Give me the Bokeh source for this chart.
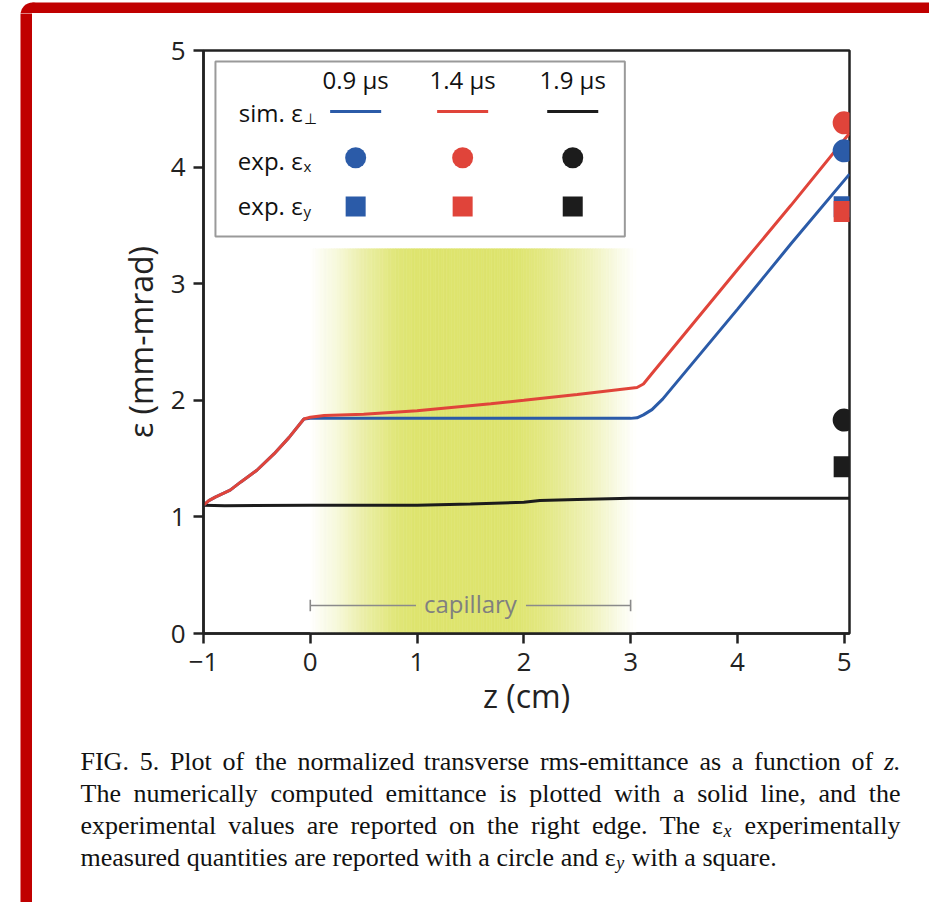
import numpy as np
from bokeh.plotting import figure
from bokeh.models import Label, Range1d, ColumnDataSource
from bokeh.layouts import column, row
from bokeh.core.properties import value
from bokeh.embed import file_html
from bokeh.resources import INLINE

# ---------------- data ----------------
z_blue = [-1.0, -0.95, -0.89, -0.75, -0.65, -0.5, -0.34, -0.2, -0.06, 0.0, 1.0, 2.0, 3.0, 3.06, 3.12, 3.2, 3.3, 4.0, 4.5, 5.05]
eps_blue = [1.10, 1.14, 1.17, 1.23, 1.30, 1.40, 1.54, 1.68, 1.84, 1.845, 1.845, 1.845, 1.845, 1.85, 1.875, 1.92, 2.01, 2.78, 3.34, 3.94]

z_red = [-1.0, -0.95, -0.89, -0.75, -0.65, -0.5, -0.34, -0.2, -0.06, 0.0, 0.13, 0.5, 1.0, 1.69, 2.0, 2.5, 3.06, 3.12, 3.2, 4.0, 4.5, 5.05]
eps_red = [1.10, 1.14, 1.17, 1.23, 1.30, 1.40, 1.54, 1.68, 1.84, 1.855, 1.87, 1.88, 1.91, 1.97, 2.00, 2.05, 2.11, 2.14, 2.23, 3.12, 3.67, 4.29]

z_black = [-1.0, -0.8, 0.0, 1.0, 1.5, 2.0, 2.15, 2.5, 3.0, 5.05]
eps_black = [1.10, 1.095, 1.10, 1.10, 1.11, 1.125, 1.14, 1.15, 1.16, 1.16]

z_exp = 5.0
exp_x = [4.14, 4.38, 1.83]   # circles: 0.9, 1.4, 1.9 us
exp_y = [3.66, 3.62, 1.43]   # squares

series_labels = ["0.9 μs", "1.4 μs", "1.9 μs"]
series_colors = ["#2b5ba8", "#e0443a", "#1c1c1c"]

x_ticks = [-1, 0, 1, 2, 3, 4, 5]
y_ticks = [0, 1, 2, 3, 4, 5]

capillary_start, capillary_end = 0.0, 3.0

caption_lines = [
    "FIG. 5. Plot of the normalized transverse rms-emittance as a function of z.",
    "The numerically computed emittance is plotted with a solid line, and the",
    "experimental values are reported on the right edge. The ε_x experimentally",
    "measured quantities are reported with a circle and ε_y with a square.",
]
caption_justify = [True, True, True, False]

# ---------------- page geometry ----------------
PAGE_W, PAGE_H = 929, 902
FRAME_RED = "#c00000"
BAR_X0, BAR_X1 = 20, 32        # left red bar
BAR_Y0, BAR_Y1 = 2, 13         # top red bar
CHART_H = 727
CAP_H = PAGE_H - BAR_Y1 - CHART_H


def blank_fig(w, h, xr, yr):
    f = figure(width=w, height=h, x_range=xr, y_range=yr, output_backend="svg", toolbar_location=None,
               x_axis_location=None, y_axis_location=None, min_border=0)
    f.grid.visible = False
    f.outline_line_color = None
    f.background_fill_color = "white"
    f.border_fill_color = "white"
    return f


# top red strip
top_strip = blank_fig(PAGE_W, BAR_Y1, Range1d(0, PAGE_W), Range1d(BAR_Y1, 0))
top_strip.quad(left=[BAR_X1], right=[PAGE_W + 5], top=[BAR_Y0], bottom=[BAR_Y1 + 1],
               fill_color=FRAME_RED, line_color=None)
top_strip.scatter(x=[BAR_X1], y=[BAR_Y0 + (BAR_X1 - BAR_X0)], marker="circle", size=2 * (BAR_X1 - BAR_X0),
                  fill_color=FRAME_RED, line_color=None)

# left red strip (full height below the top strip)
left_strip = blank_fig(BAR_X1, PAGE_H - BAR_Y1, Range1d(0, BAR_X1), Range1d(PAGE_H, BAR_Y1))
left_strip.quad(left=[BAR_X0], right=[BAR_X1 + 1], top=[BAR_Y1 - 1], bottom=[PAGE_H + 1],
                fill_color=FRAME_RED, line_color=None)

# ---------------- chart ----------------
FONT = "Open Sans"
INK = "#222222"

p = figure(width=PAGE_W - BAR_X1, height=CHART_H, x_range=Range1d(-1, 5.05), y_range=Range1d(0, 5),
           output_backend="svg", toolbar_location=None,
           min_border_left=171, min_border_right=80, min_border_top=37, min_border_bottom=CHART_H - 37 - 583)
p.background_fill_color = "white"
p.border_fill_color = "white"
p.grid.visible = False
p.outline_line_color = INK
p.outline_line_width = 2.5
p.outline_line_alpha = 1

for ax in (p.xaxis[0], p.yaxis[0]):
    ax.axis_line_color = INK
    ax.axis_line_width = 2.5
    ax.major_tick_line_color = INK
    ax.major_tick_line_width = 2.5
    ax.major_tick_out = 10
    ax.major_tick_in = 0
    ax.minor_tick_line_color = None
    ax.major_label_text_font = FONT
    ax.major_label_text_font_size = "26px"
    ax.major_label_text_color = INK
    ax.axis_label_text_font = FONT
    ax.axis_label_text_font_size = "32px"
    ax.axis_label_text_font_style = "normal"
    ax.axis_label_text_color = INK

p.xaxis.ticker = x_ticks
p.yaxis.ticker = y_ticks
p.xaxis.axis_label = "z (cm)"
p.yaxis.axis_label = "ε (mm-mrad)"
p.xaxis.major_label_standoff = 9
p.yaxis.major_label_standoff = 8
p.xaxis.axis_label_standoff = 0
p.yaxis.axis_label_standoff = 6
p.xaxis.major_label_overrides = {-1: "−1"}

# capillary gradient
yellow = np.array([222, 228, 110])
grad_stops_z = [0.0, 0.25, 0.5, 0.8, 1.0, 1.9, 2.2, 2.6, 2.9, 3.05]
grad_stops_a = [0.0, 0.25, 0.6, 0.92, 1.0, 1.0, 0.85, 0.5, 0.15, 0.0]
edges = np.linspace(grad_stops_z[0], grad_stops_z[-1], 123)
mids = 0.5 * (edges[:-1] + edges[1:])
alphas = np.interp(mids, grad_stops_z, grad_stops_a)
cols = []
for a in alphas:
    c = 255 + a * (yellow - 255)
    cols.append("#%02x%02x%02x" % tuple(int(round(v)) for v in c))
p.quad(left=edges[:-1], right=edges[1:], bottom=0, top=3.30, fill_color=cols, line_color=cols, line_width=0.6)

# capillary marker
cap_y = 0.24
cap_col = "#8a8a8a"
p.segment(x0=[capillary_start, 2.02], x1=[0.99, capillary_end], y0=[cap_y, cap_y], y1=[cap_y, cap_y],
          line_color=cap_col, line_width=1.6)
p.segment(x0=[capillary_start, capillary_end], x1=[capillary_start, capillary_end],
          y0=[cap_y - 0.05] * 2, y1=[cap_y + 0.05] * 2, line_color=cap_col, line_width=1.6)
p.add_layout(Label(x=(capillary_start + capillary_end) / 2, y=cap_y, y_offset=2, text="capillary", text_font=FONT,
                   text_font_size="24px", text_color="#808080", text_align="center", text_baseline="middle"))

# simulated curves
p.line(z_black, eps_black, line_color=series_colors[2], line_width=3)
p.line(z_blue, eps_blue, line_color=series_colors[0], line_width=3)
p.line(z_red, eps_red, line_color=series_colors[1], line_width=3)

# experimental points
for i in range(3):
    p.scatter([z_exp], [exp_y[i]], marker="square", size=21, fill_color=series_colors[i], line_color=None)
for i in range(3):
    p.scatter([z_exp], [exp_x[i]], marker="circle", size=23, fill_color=series_colors[i], line_color=None)

# custom legend
leg_left, leg_right, leg_top, leg_bottom = -0.888, 2.946, 4.906, 3.405
leg_cols = [0.425, 1.427, 2.458]
leg_half = 0.239
row_hdr, row_sim, row_ex, row_ey = 4.663, 4.477, 4.08, 3.662
base_sim, base_ex, base_ey = 4.385, 3.971, 3.585
x_eps = -0.072
TXT_SHIFT = 10
p.quad(left=[leg_left], right=[leg_right], top=[leg_top], bottom=[leg_bottom],
       fill_color="white", line_color="#9a9a9a", line_width=2)
for i in range(3):
    p.add_layout(Label(x=leg_cols[i], y=row_hdr, y_offset=TXT_SHIFT, text=series_labels[i], text_font=FONT,
                       text_font_size="24px", text_color="#111111", text_align="center", text_baseline="alphabetic"))
    p.segment(x0=[leg_cols[i] - leg_half], x1=[leg_cols[i] + leg_half], y0=[row_sim], y1=[row_sim],
              line_color=series_colors[i], line_width=3)
    p.scatter([leg_cols[i]], [row_ex], marker="circle", size=21, fill_color=series_colors[i], line_color=None)
    p.scatter([leg_cols[i]], [row_ey], marker="square", size=20, fill_color=series_colors[i], line_color=None)
for main, sub, base in (("sim. ε", "⊥", base_sim), ("exp. ε", "x", base_ex), ("exp. ε", "y", base_ey)):
    p.add_layout(Label(x=x_eps, y=base, y_offset=TXT_SHIFT, text=main, text_font=FONT, text_font_size="24px",
                       text_color="#111111", text_align="right", text_baseline="alphabetic"))
    p.add_layout(Label(x=x_eps, y=base, y_offset=TXT_SHIFT - 6, x_offset=1, text=sub, text_font=FONT,
                       text_font_size="15px", text_color="#111111", text_align="left", text_baseline="alphabetic"))

# ---------------- caption ----------------
CAP_FONT = "Liberation Serif"
CAP_SIZE = 26
SUB_SIZE = 18
TNR = {' ': 0.25, '.': 0.25, ',': 0.25, '-': 0.333, 'a': 0.444, 'b': 0.5, 'c': 0.444, 'd': 0.5, 'e': 0.444,
       'f': 0.333, 'g': 0.5, 'h': 0.5, 'i': 0.278, 'j': 0.278, 'k': 0.5, 'l': 0.278, 'm': 0.778, 'n': 0.5,
       'o': 0.5, 'p': 0.5, 'q': 0.5, 'r': 0.333, 's': 0.389, 't': 0.278, 'u': 0.5, 'v': 0.5, 'w': 0.722,
       'x': 0.5, 'y': 0.5, 'z': 0.389, 'F': 0.556, 'I': 0.333, 'G': 0.722, 'P': 0.556, 'T': 0.611, '5': 0.5,
       'ε': 0.44}


def tw(s, size):
    return sum(TNR.get(c, 0.5) for c in s) * size


def word_width(w):
    if w.startswith("ε_"):
        return tw("ε", CAP_SIZE) + tw(w[2:], SUB_SIZE)
    return tw(w, CAP_SIZE)


cap_top = BAR_Y1 + CHART_H
cap = blank_fig(PAGE_W - BAR_X1, CAP_H, Range1d(BAR_X1, PAGE_W), Range1d(PAGE_H, cap_top))

cap_left, cap_right = 80, 900
cap_base0, cap_lead = 761, 32
cx, cy, ct, cs, cst = [], [], [], [], []
for li, line in enumerate(caption_lines):
    words = line.split(" ")
    widths = [word_width(w) for w in words]
    if caption_justify[li]:
        gap = (cap_right - cap_left - sum(widths)) / (len(words) - 1)
    else:
        gap = tw(" ", CAP_SIZE)
    xcur = cap_left
    yb = cap_base0 + li * cap_lead
    for w, wd in zip(words, widths):
        if w.startswith("ε_"):
            cx += [xcur, xcur + tw("ε", CAP_SIZE)]
            cy += [yb, yb + 5]
            ct += ["ε", w[2:]]
            cs += [f"{CAP_SIZE}px", f"{SUB_SIZE}px"]
            cst += ["normal", "italic"]
        else:
            cx.append(xcur)
            cy.append(yb)
            ct.append(w)
            cs.append(f"{CAP_SIZE}px")
            cst.append("italic" if w == "z." else "normal")
        xcur += wd + gap

cap_src = ColumnDataSource(dict(x=cx, y=cy, text=ct, size=cs, style=cst))
cap.text(x="x", y="y", text="text", source=cap_src, text_font=value(CAP_FONT), text_font_size="size",
         text_font_style="style", text_color="#111111", text_align="left", text_baseline="alphabetic")

layout = column(top_strip, row(left_strip, column(row(p), row(cap), spacing=0), spacing=0), spacing=0)

open("out.html", "w").write(file_html(layout, INLINE))
